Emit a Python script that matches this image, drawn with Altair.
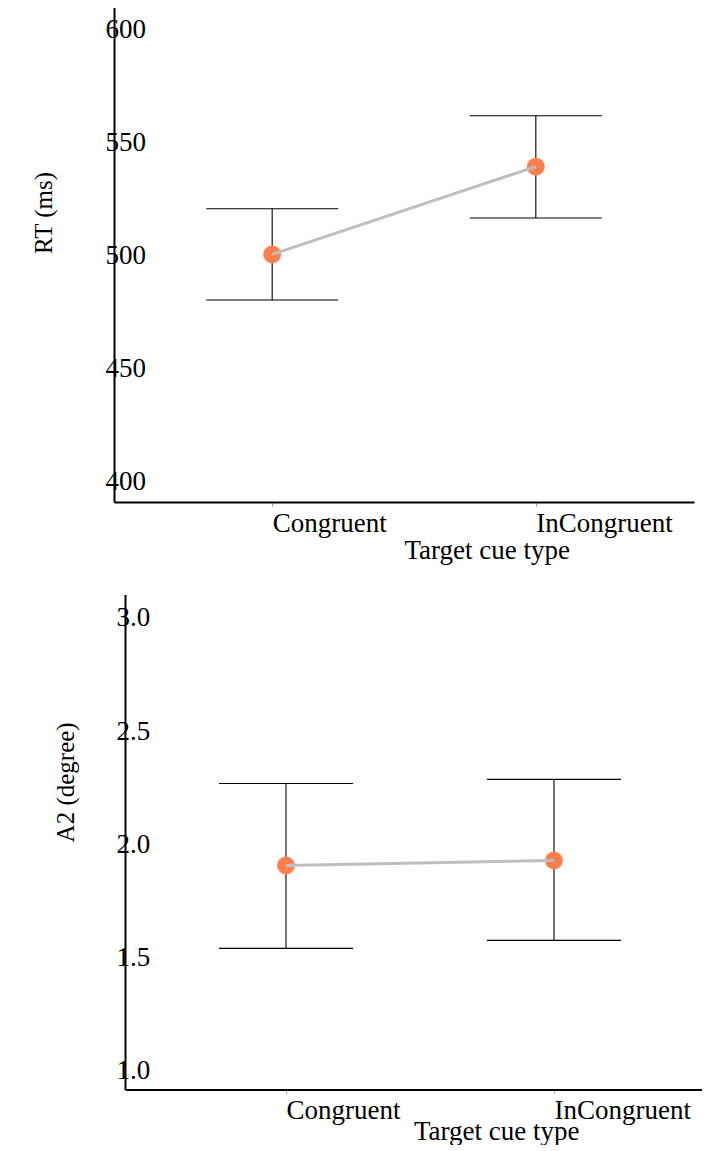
import altair as alt
import pandas as pd

categories = ["Congruent", "InCongruent"]

rt_mean = [500.6, 539.5]
rt_low = [480.4, 516.7]
rt_high = [520.8, 562.0]

a2_mean = [1.907, 1.929]
a2_low = [1.541, 1.576]
a2_high = [2.269, 2.287]

rt_ticks = [400, 450, 500, 550, 600]
a2_ticks = [1.0, 1.5, 2.0, 2.5, 3.0]

FONT = "Liberation Serif"
NOVIEW = alt.ViewBackground(stroke="transparent", strokeWidth=0)


def panel(mean, low, high, ytitle, ydomain, yticks, fmt, width, height, cap,
          title_x, xtitle_y, pad, align):
    df = pd.DataFrame({"cue": categories, "mean": mean, "low": low, "high": high})
    x = alt.X(
        "cue:N",
        sort=categories,
        scale=alt.Scale(type="point", padding=pad, align=align),
        axis=alt.Axis(
            title="Target cue type",
            labelAngle=0,
            labelAlign="left",
            labelBaseline="top",
            labelPadding=4,
            labelFont=FONT,
            labelFontSize=27,
            labelColor="black",
            ticks=True,
            tickSize=4,
            tickWidth=1,
            tickColor="#999999",
            domainColor="black",
            domainWidth=2,
            grid=False,
            titleFont=FONT,
            titleFontSize=27,
            titleFontWeight="normal",
            titleColor="black",
            titleAlign="left",
            titleBaseline="alphabetic",
            titleX=width / 2,
            titleY=xtitle_y,
        ),
    )
    yaxis = alt.Axis(
        title=ytitle,
        values=yticks,
        format=fmt,
        ticks=False,
        tickSize=0,
        grid=False,
        domainColor="black",
        domainWidth=2,
        labelAlign="left",
        labelBaseline="middle",
        labelPadding=9,
        labelFont=FONT,
        labelFontSize=27,
        labelColor="black",
        titleFont=FONT,
        titleFontSize=25,
        titleFontWeight="normal",
        titleColor="black",
        titleAngle=270,
        titleAlign="left",
        titleBaseline="middle",
        titleX=title_x,
        titleY=height / 2,
    )
    ys = alt.Scale(domain=ydomain, nice=False, zero=False)
    base = alt.Chart(df)
    rule = base.mark_rule(color="black", strokeWidth=1.1).encode(
        x=x, y=alt.Y("low:Q", scale=ys, axis=yaxis), y2="high:Q"
    )
    cap_low = base.mark_tick(color="black", size=cap, thickness=1.1, opacity=1).encode(
        x=x, y=alt.Y("low:Q", scale=ys, axis=yaxis)
    )
    cap_high = base.mark_tick(color="black", size=cap, thickness=1.1, opacity=1).encode(
        x=x, y=alt.Y("high:Q", scale=ys, axis=yaxis)
    )
    pts = base.mark_circle(color="#FF7F50", size=320, opacity=1).encode(
        x=x, y=alt.Y("mean:Q", scale=ys, axis=yaxis)
    )
    line = base.mark_line(color="#BEBEBE", strokeWidth=3).encode(
        x=x, y=alt.Y("mean:Q", scale=ys, axis=yaxis)
    )
    return alt.layer(rule, cap_low, cap_high, pts, line).properties(
        width=width, height=height, view=NOVIEW
    )


def spacer(w):
    return (
        alt.Chart(pd.DataFrame({"s": [0]}))
        .mark_point(opacity=0, size=0, strokeWidth=0)
        .encode(x=alt.value(w / 2), y=alt.value(0))
        .properties(width=w, height=1, view=NOVIEW)
    )


top = panel(rt_mean, rt_low, rt_high, "RT (ms)", [390.92, 611.07], rt_ticks, "d",
            580, 497, 132, -70.5, 56, 0.6, 0.5)
bottom = panel(a2_mean, a2_low, a2_high, "A2 (degree)", [0.918, 3.104], a2_ticks, ".1f",
               577, 495, 134, -60, 50, 0.5765, 0.521)

top_row = alt.hconcat(spacer(1), top, spacing=0)
bottom_row = alt.hconcat(spacer(22.5), bottom, spacing=0)

chart = (
    alt.vconcat(top_row, bottom_row, spacing=31.4)
    .properties(padding={"left": 22, "top": -3, "right": 0, "bottom": 0})
    .configure_view(stroke="transparent", strokeWidth=0)
    .configure(background="white")
)

chart.save("out.html", embed_options={"renderer": "svg", "actions": False})
